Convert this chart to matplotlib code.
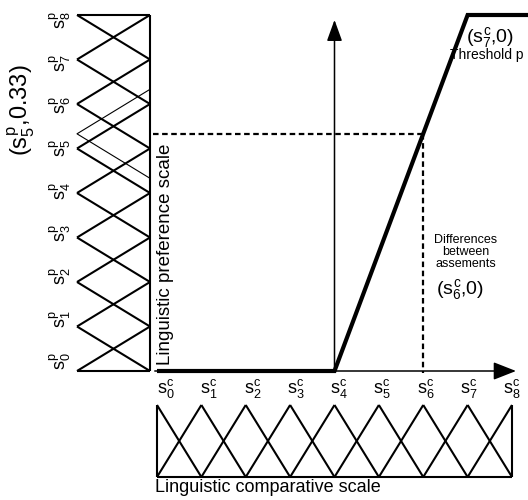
import matplotlib
matplotlib.use("Agg")
import matplotlib.pyplot as plt

plt.rcParams['font.family'] = ['Liberation Sans', 'DejaVu Sans']
plt.rcParams['mathtext.fontset'] = 'custom'
plt.rcParams['mathtext.rm'] = 'Liberation Sans'
plt.rcParams['mathtext.it'] = 'Liberation Sans'
plt.rcParams['mathtext.bf'] = 'Liberation Sans:bold'

# ---- data ----
levels = list(range(9))                                   # s_0 ... s_8
comp_labels = [r'$s_{%d}^{c}$' % k for k in levels]       # comparative scale labels
pref_labels = [r'$s_{%d}^{p}$' % k for k in levels]       # preference scale labels
threshold_x = [0, 4, 7, 8.5]                              # comparative terms
threshold_y = [0, 0, 8, 8]                                # preference terms
example_c = 6                                             # (s_6^c, 0)
example_p = 5.33                                          # (s_5^p, 0.33)

W, H = 528, 500
fig = plt.figure(figsize=(W / 100, H / 100), dpi=100)

def px_axes(x0, x1, ytop, ybot):
    return fig.add_axes([x0 / W, (H - ybot) / H, (x1 - x0) / W, (ybot - ytop) / H])

# main axes : x comparative 0..8, y preference 0..8
ax = px_axes(157, 512, 15, 371)
ax.set_xlim(0, 8); ax.set_ylim(0, 8); ax.axis('off')
# left preference scale : membership 1 (left) .. 0 (right)
axp = px_axes(77, 150, 15, 371)
axp.set_xlim(1, 0); axp.set_ylim(0, 8); axp.axis('off')
# bottom comparative scale
axc = px_axes(157, 512, 405, 477)
axc.set_xlim(0, 8); axc.set_ylim(0, 1); axc.axis('off')

tri_lw = 1.5
kw = dict(color='black', solid_capstyle='butt', clip_on=False)

# ---- left preference scale ----
n = levels[-1]
for k in levels:
    for j in (k - 1, k + 1):
        if 0 <= j <= n:
            axp.plot([1, 0], [k, j], lw=tri_lw, **kw)
axp.plot([0, 1], [0, 0], lw=tri_lw, **kw)
axp.plot([0, 1], [n, n], lw=tri_lw, **kw)
axp.plot([0, 0], [0, n], lw=tri_lw, **kw)
# shifted (translated) term
axp.plot([0, 1, 0], [example_p + 1, example_p, example_p - 1], lw=0.8, **kw)
for k in levels:
    axp.text(1.23, 0.22 + 0.959 * k, pref_labels[k], rotation=90, ha='center',
             va='center', fontsize=13)

# ---- bottom comparative scale ----
for k in levels:
    for j in (k - 1, k + 1):
        if 0 <= j <= n:
            axc.plot([k, j], [1, 0], lw=tri_lw, **kw)
axc.plot([0, 0], [0, 1], lw=tri_lw, **kw)
axc.plot([n, n], [0, 1], lw=tri_lw, **kw)
axc.plot([0, n], [0, 0], lw=tri_lw, **kw)

# ---- main axes ----
ax.annotate('', xy=(8.09, 0), xytext=(-0.05, 0), annotation_clip=False,
            arrowprops=dict(arrowstyle='-|>,head_length=1.4,head_width=0.55',
                            mutation_scale=10, lw=1.1, color='black',
                            shrinkA=0, shrinkB=0))
ax.annotate('', xy=(threshold_x[1], 7.89), xytext=(threshold_x[1], 0), annotation_clip=False,
            arrowprops=dict(arrowstyle='-|>,head_length=1.3,head_width=0.47',
                            mutation_scale=10, lw=1.1, color='black',
                            shrinkA=0, shrinkB=0))
ax.plot(threshold_x, threshold_y, lw=3.0, color='black', clip_on=False,
        solid_joinstyle='miter', solid_capstyle='butt')
ax.plot([-0.1, example_c], [example_p, example_p], lw=1.6, color='black',
        ls=(0, (2.5, 1.6)), clip_on=False)
ax.plot([example_c, example_c], [example_p, -0.05], lw=1.6, color='black',
        ls=(0, (2.5, 1.6)), clip_on=False)
for k in levels:
    ax.text(0.2 + 0.975 * k, -0.4, comp_labels[k], ha='center', va='center',
            fontsize=13)

# ---- annotations ----
def ftext(x, y, s, **k):
    fig.text(x / W, 1 - y / H, s, **k)

ftext(21, 110, r'$(s_{5}^{p}$,0.33)', rotation=90, ha='center', va='center', fontsize=17)
ftext(165, 254, 'Linguistic preference scale', rotation=90, ha='center', va='center', fontsize=13.5)
ftext(155, 488, 'Linguistic comparative scale', ha='left', va='center', fontsize=13)
ftext(466, 37, r'$(s_{7}^{c}$,0)', ha='left', va='center', fontsize=14)
ftext(450, 55, 'Threshold p', ha='left', va='center', fontsize=10)
ftext(466, 252, 'Differences\nbetween\nassements', ha='center', va='center',
      fontsize=9, linespacing=1.0)
ftext(436, 290, r'$(s_{6}^{c}$,0)', ha='left', va='center', fontsize=14)

fig.savefig('out.png', dpi=100)
